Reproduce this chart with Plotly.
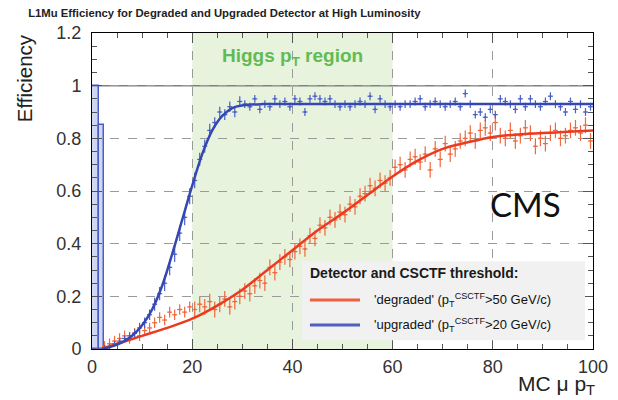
import plotly.graph_objects as go

# bin centres, 1 GeV bins
pt_bins = [i + 0.5 for i in range(100)]

eff_upgraded = [
    0.0, 0.0, 0.005, 0.01, 0.02, 0.03, 0.04, 0.05, 0.06, 0.08,
    0.10, 0.13, 0.17, 0.21, 0.25, 0.31, 0.36, 0.44, 0.50, 0.58,
    0.64, 0.72, 0.77, 0.83, 0.86, 0.90, 0.89, 0.92, 0.90, 0.94,
    0.93, 0.92, 0.95, 0.91, 0.93, 0.92, 0.95, 0.93, 0.94, 0.92,
    0.95, 0.94, 0.90, 0.95, 0.96, 0.95, 0.94, 0.95, 0.93, 0.92,
    0.93, 0.92, 0.93, 0.94, 0.93, 0.96, 0.91, 0.95, 0.93, 0.92,
    0.93, 0.92, 0.93, 0.93, 0.94, 0.95, 0.92, 0.93, 0.94, 0.93,
    0.92, 0.93, 0.94, 0.92, 0.97, 0.93, 0.89, 0.90, 0.88, 0.91,
    0.89, 0.95, 0.94, 0.93, 0.91, 0.95, 0.92, 0.95, 0.93, 0.92,
    0.94, 0.96, 0.93, 0.92, 0.90, 0.94, 0.91, 0.93, 0.90, 0.92,
]
err_upgraded = [
    0.0, 0.0, 0.01, 0.01, 0.01, 0.01, 0.01, 0.015, 0.015, 0.02,
    0.02, 0.02, 0.025, 0.025, 0.03, 0.03, 0.03, 0.03, 0.03, 0.03,
    0.03, 0.025, 0.025, 0.025, 0.02, 0.02, 0.02, 0.02, 0.02, 0.02,
] + [0.015] * 70

eff_degraded = [
    0.0, 0.0, 0.01, 0.02, 0.03, 0.04, 0.05, 0.04, 0.06, 0.05,
    0.07, 0.08, 0.10, 0.12, 0.11, 0.14, 0.13, 0.15, 0.14, 0.16,
    0.15, 0.17, 0.16, 0.18, 0.15, 0.17, 0.19, 0.16, 0.18, 0.20,
    0.22, 0.21, 0.24, 0.26, 0.25, 0.31, 0.29, 0.33, 0.35, 0.34,
    0.37, 0.39, 0.38, 0.43, 0.42, 0.47, 0.46, 0.50, 0.49, 0.52,
    0.51, 0.55, 0.54, 0.58, 0.59, 0.62, 0.61, 0.64, 0.63, 0.65,
    0.69, 0.70, 0.68, 0.72, 0.73, 0.71, 0.74, 0.68, 0.76, 0.72,
    0.78, 0.74, 0.76, 0.79, 0.80, 0.82, 0.79, 0.83, 0.84, 0.82,
    0.86, 0.81, 0.80, 0.83, 0.79, 0.81, 0.84, 0.82, 0.77, 0.80,
    0.78, 0.82, 0.83, 0.80, 0.81, 0.83, 0.84, 0.82, 0.85, 0.79,
]
err_degraded = [0.0, 0.0] + [0.02] * 18 + [0.03] * 80

# fitted turn-on curves
fit_up_x = [2, 4, 6, 8, 10, 12, 14, 16, 18, 20, 22, 24, 26, 28, 30, 34, 40, 100]
fit_up_y = [0.0, 0.01, 0.025, 0.05, 0.09, 0.15, 0.24, 0.36, 0.49, 0.62,
            0.74, 0.83, 0.885, 0.915, 0.925, 0.93, 0.93, 0.93]
fit_deg_x = [2, 5, 10, 15, 20, 25, 30, 35, 40, 45, 50, 55, 60, 65, 70, 75,
             80, 85, 90, 95, 100]
fit_deg_y = [0.0, 0.02, 0.05, 0.08, 0.115, 0.165, 0.225, 0.30, 0.375, 0.45,
             0.515, 0.585, 0.655, 0.715, 0.76, 0.785, 0.805, 0.815, 0.82,
             0.825, 0.83]

# low-pt bins with huge errors
low_x = [0.7, 1.9]
low_w = [1.4, 1.0]
low_y = [1.0, 0.85]

legend_labels = [
    "'degraded' (p<sub>T</sub><sup>CSCTF</sup>&gt;50 GeV/c)",
    "'upgraded' (p<sub>T</sub><sup>CSCTF</sup>&gt;20 GeV/c)",
]

blue_pts = "#4a5ec6"
red_pts = "#f0683c"
blue_fit = "#3547b0"
red_fit = "#ec3a20"
font = "Liberation Sans, Arial, sans-serif"

fig = go.Figure()

fig.add_trace(
    go.Bar(
        x=low_x, y=low_y, width=low_w,
        marker=dict(color="rgba(120,140,220,0.35)",
                    line=dict(color=blue_pts, width=1.5)),
        showlegend=False, hoverinfo="skip",
    )
)

fig.add_trace(
    go.Scatter(
        x=pt_bins, y=eff_degraded, mode="markers",
        marker=dict(color=red_pts, size=2),
        error_x=dict(type="constant", value=0.5, color=red_pts, thickness=1.2, width=0),
        error_y=dict(type="data", array=err_degraded, color=red_pts, thickness=1.2, width=0),
        showlegend=False,
    )
)
fig.add_trace(
    go.Scatter(
        x=pt_bins, y=eff_upgraded, mode="markers",
        marker=dict(color=blue_pts, size=2),
        error_x=dict(type="constant", value=0.5, color=blue_pts, thickness=1.2, width=0),
        error_y=dict(type="data", array=err_upgraded, color=blue_pts, thickness=1.2, width=0),
        showlegend=False,
    )
)
fig.add_trace(
    go.Scatter(
        x=fit_deg_x, y=fit_deg_y, mode="lines",
        line=dict(color=red_fit, width=2.5, shape="spline"),
        name=legend_labels[0], showlegend=False,
    )
)
fig.add_trace(
    go.Scatter(
        x=fit_up_x, y=fit_up_y, mode="lines",
        line=dict(color=blue_fit, width=2.5, shape="spline"),
        name=legend_labels[1], showlegend=False,
    )
)

# Higgs pT region band
fig.add_shape(type="rect", x0=20, x1=60, y0=0, y1=1.2, layer="below",
              fillcolor="#e7f3dc", line=dict(width=0))
fig.add_shape(type="line", x0=0, x1=100, y0=1, y1=1, layer="below",
              line=dict(color="#808080", width=1.5))

# legend box (ROOT style)
fig.add_shape(type="rect", xref="paper", yref="paper", x0=0.419, x1=0.984,
              y0=0.028, y1=0.278, layer="above",
              fillcolor="#f1f1f1", line=dict(width=0))
fig.add_annotation(xref="paper", yref="paper", x=0.431, y=0.241,
                   xanchor="left", yanchor="middle", showarrow=False,
                   text="<b>Detector and CSCTF threshold:</b>",
                   font=dict(size=14, color="#1a1a1a", family=font))
for row_y, col, label in [(0.155, "#f06040", legend_labels[0]),
                          (0.076, "#5060c0", legend_labels[1])]:
    fig.add_shape(type="line", xref="paper", yref="paper", x0=0.435, x1=0.535,
                  y0=row_y, y1=row_y, layer="above", line=dict(color=col, width=3))
    fig.add_annotation(xref="paper", yref="paper", x=0.559, y=row_y,
                       xanchor="left", yanchor="middle", showarrow=False,
                       text=label, font=dict(size=13, color="#111111", family=font))

fig.add_annotation(x=40, y=1.109, text="<b>Higgs p<sub>T</sub> region</b>",
                   showarrow=False, font=dict(size=19, color="#62bb52", family=font))
fig.add_annotation(x=86.5, y=0.55, text="CMS", showarrow=False,
                   font=dict(size=33, color="#111111", family="Lato, Open Sans, sans-serif"))
fig.add_annotation(xref="paper", yref="paper", x=-0.133, y=0.858,
                   xanchor="center", yanchor="middle",
                   text="Efficiency", textangle=-90, showarrow=False,
                   font=dict(size=20.5, color="#222222", family=font))
fig.add_annotation(xref="paper", yref="paper", x=1.006, y=-0.158,
                   xanchor="right", yanchor="bottom", borderpad=0,
                   text="MC \u03bc p<sub>T</sub>", showarrow=False,
                   font=dict(size=21, color="#222222", family=font))

fig.update_layout(
    width=610,
    height=392,
    margin=dict(l=84, r=25, t=25, b=51),
    plot_bgcolor="white",
    paper_bgcolor="white",
    font=dict(family=font, color="#333333"),
    showlegend=False,
    title=dict(
        text="<b>L1Mu Efficiency for Degraded and Upgraded Detector at High Luminosity</b>",
        x=0.033, y=0.987, xanchor="left", yanchor="middle",
        font=dict(size=11.3, color="#222222"),
    ),
    xaxis=dict(
        range=[0, 100], dtick=20, showline=True, linecolor="black", linewidth=1,
        mirror="ticks", ticks="inside", ticklen=10, tickcolor="#555555",
        minor=dict(ticks="inside", ticklen=5, dtick=5, tickcolor="#555555"),
        showgrid=True, gridcolor="#9a9a9a", griddash="dash", gridwidth=1,
        zeroline=False, tickfont=dict(size=18, color="#333333"),
        ticklabelstandoff=1, automargin=False,
    ),
    yaxis=dict(
        range=[0, 1.2], dtick=0.2, showline=True, linecolor="black", linewidth=1,
        mirror="ticks", ticks="inside", ticklen=10, tickcolor="#555555",
        minor=dict(ticks="inside", ticklen=5, dtick=0.05, tickcolor="#555555"),
        showgrid=True, gridcolor="#9a9a9a", griddash="dash", gridwidth=1,
        zeroline=False, tickfont=dict(size=18, color="#333333"),
        tickformat="~g", ticklabelstandoff=6, automargin=False,
    ),
    bargap=0,
)

fig.write_html("out.html")
